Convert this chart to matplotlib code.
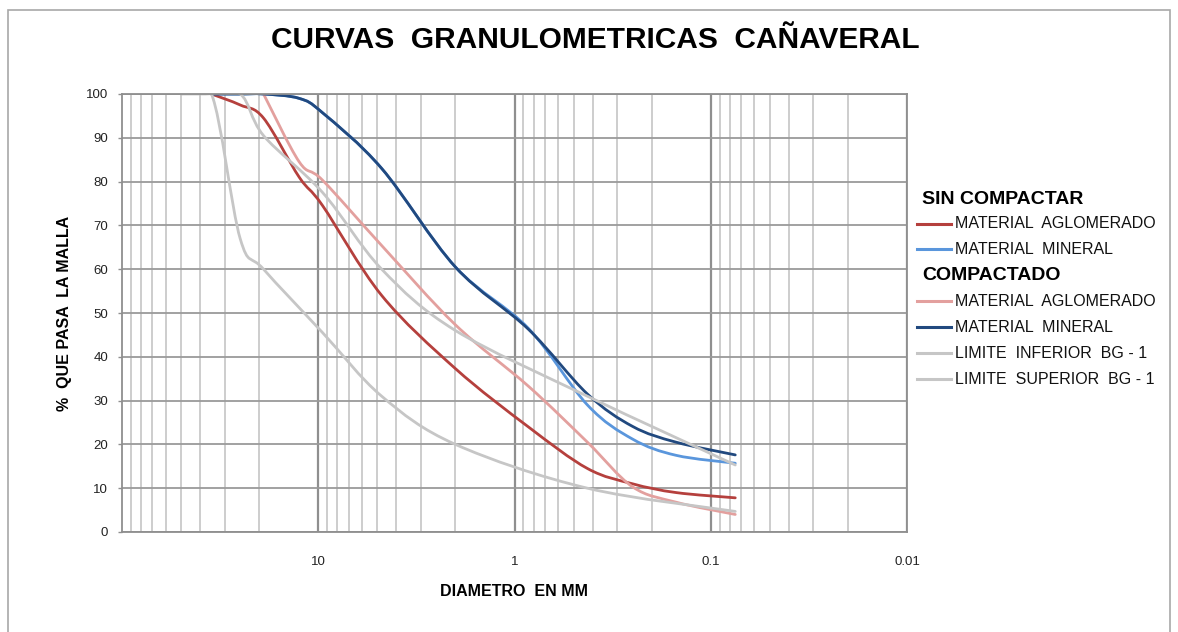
import numpy as np
import matplotlib
matplotlib.use("Agg")
import matplotlib.pyplot as plt
from matplotlib.path import Path
from matplotlib.patches import PathPatch, Rectangle
from matplotlib.lines import Line2D
from matplotlib.ticker import FixedLocator, NullFormatter, LogLocator

plt.rcParams['font.family'] = ['Liberation Sans', 'DejaVu Sans']

# ---------------- data (diameter mm, % passing) ----------------
mat_sizes = [35, 25, 19, 12.5, 9.5, 4.75, 2.0, 0.85, 0.425, 0.25, 0.15, 0.075]
sc_aglomerado = [100, 97.5, 94.5, 81, 74.5, 54, 37.3, 24, 14.5, 11, 9, 7.8]
sc_mineral = [100, 100, 100, 99, 95.7, 83, 60.5, 46.5, 29, 21.2, 17.5, 15.7]

c_aglo_sizes = [19, 12.5, 9.5, 4.75, 2.0, 0.85, 0.425, 0.25, 0.15, 0.075]
c_aglomerado = [100, 84.5, 80.3, 65.4, 47.3, 33.3, 20.5, 10.3, 6.8, 4.0]
c_mineral = [100, 100, 100, 99, 95.7, 83, 60.5, 46.3, 31.5, 24.1, 20.5, 17.6]

lim_sizes = [50, 35, 25, 19, 9.5, 4.75, 2.0, 0.425, 0.075]
lim_inferior = [100, 100, 67, 60, 45.5, 31, 20, 10, 4.7]
lim_sup_sizes = [50, 37.5, 25, 19, 9.5, 4.75, 2.0, 0.425, 0.075]
lim_superior = [100, 100, 100, 90.5, 77.5, 60, 46, 31, 15.3]

x_tick_values = [10, 1, 0.1, 0.01]
x_tick_labels = ["10", "1", "0.1", "0.01"]
y_ticks = list(range(0, 101, 10))

series = [
    ("MATERIAL  AGLOMERADO", mat_sizes, sc_aglomerado, "#b5403d"),
    ("MATERIAL  MINERAL", mat_sizes, sc_mineral, "#5a96dc"),
    ("MATERIAL  AGLOMERADO", c_aglo_sizes, c_aglomerado, "#e3a09e"),
    ("MATERIAL  MINERAL", mat_sizes, c_mineral, "#21497f"),
    ("LIMITE  INFERIOR  BG - 1", lim_sizes, lim_inferior, "#c6c6c6"),
    ("LIMITE  SUPERIOR  BG - 1", lim_sup_sizes, lim_superior, "#c6c6c6"),
]


def smooth_path(xs, ys):
    """Excel-like smoothed line: cubic Bezier segments (Catmull-Rom control
    points) built in log10(x)-y space and returned in data coordinates."""
    lx = np.log10(np.asarray(xs, float))
    y = np.asarray(ys, float)
    n = len(lx)
    P = np.column_stack([lx, y])
    verts = [P[0]]
    codes = [Path.MOVETO]
    for i in range(n - 1):
        p0 = P[i - 1] if i > 0 else P[i]
        p1 = P[i]
        p2 = P[i + 1]
        p3 = P[i + 2] if i + 2 < n else P[i + 1]
        c1 = p1 + (p2 - p0) / 6.0
        c2 = p2 - (p3 - p1) / 6.0
        verts += [c1, c2, p2]
        codes += [Path.CURVE4] * 3
    v = np.array(verts)
    v[:, 0] = 10 ** v[:, 0]
    return Path(v, codes)


fig = plt.figure(figsize=(11.78, 6.32), dpi=100)
ax = fig.add_axes([122 / 1178, 1 - 532 / 632, (907 - 122) / 1178, (532 - 94) / 632])

ax.set_xscale("log")
ax.set_xlim(100, 0.01)
ax.set_ylim(0, 100)

# grid
ax.xaxis.set_major_locator(FixedLocator([100, 10, 1, 0.1, 0.01]))
ax.xaxis.set_minor_locator(LogLocator(base=10, subs=np.arange(2, 10)))
ax.xaxis.set_minor_formatter(NullFormatter())
ax.set_xticks(x_tick_values)
ax.set_xticklabels(x_tick_labels)
ax.set_yticks(y_ticks)
ax.grid(True, which="minor", axis="x", color="#c9c9c9", lw=1.3)
ax.grid(True, which="major", axis="x", color="#8f8f8f", lw=1.6)
ax.grid(True, which="major", axis="y", color="#9a9a9a", lw=1.3)
ax.set_axisbelow(True)
for s in ax.spines.values():
    s.set_color("#8f8f8f")
    s.set_linewidth(1.3)

ax.tick_params(axis="x", which="both", length=0, pad=17, labelsize=9.5, labelcolor="#222222")
ax.tick_params(axis="y", which="major", length=3, width=1, color="#8f8f8f", pad=7,
               labelsize=9.5, labelcolor="#222222")

for label, xs, ys, col in series:
    patch = PathPatch(smooth_path(xs, ys), facecolor="none", edgecolor=col,
                      lw=2.0, transform=ax.transData, capstyle="round", joinstyle="round")
    ax.add_patch(patch)

ax.set_xlabel("DIAMETRO  EN MM", fontsize=11.5, fontweight="bold", labelpad=12)
ax.set_ylabel("%  QUE PASA  LA MALLA", fontsize=11.5, fontweight="bold", labelpad=10)

fig.text(595 / 1178, 1 - 40 / 632, "CURVAS  GRANULOMETRICAS  CAÑAVERAL",
         fontsize=21.5, fontweight="bold", ha="center", va="center")

# legend (manual, with group headers)
def fx(px):
    return px / 1178

def fy(py):
    return 1 - py / 632

fig.text(fx(922), fy(199), "SIN COMPACTAR", fontsize=14, fontweight="bold", va="center")
fig.text(fx(922), fy(276), "COMPACTADO", fontsize=14, fontweight="bold", va="center")
rows = [224, 249, 301, 327, 353, 379]
for (label, xs, ys, col), ry in zip(series, rows):
    fig.add_artist(Line2D([fx(917), fx(951)], [fy(ry), fy(ry)], color=col, lw=2.2,
                          transform=fig.transFigure))
    fig.text(fx(955), fy(ry), label, fontsize=11.5, va="center", color="#111111")

# outer frame
fig.add_artist(Rectangle((fx(8), -0.05), fx(1170) - fx(8), fy(10) + 0.05,
                         transform=fig.transFigure, fill=False, edgecolor="#a8a8a8", lw=1.2))

fig.savefig("out.png", dpi=100)
